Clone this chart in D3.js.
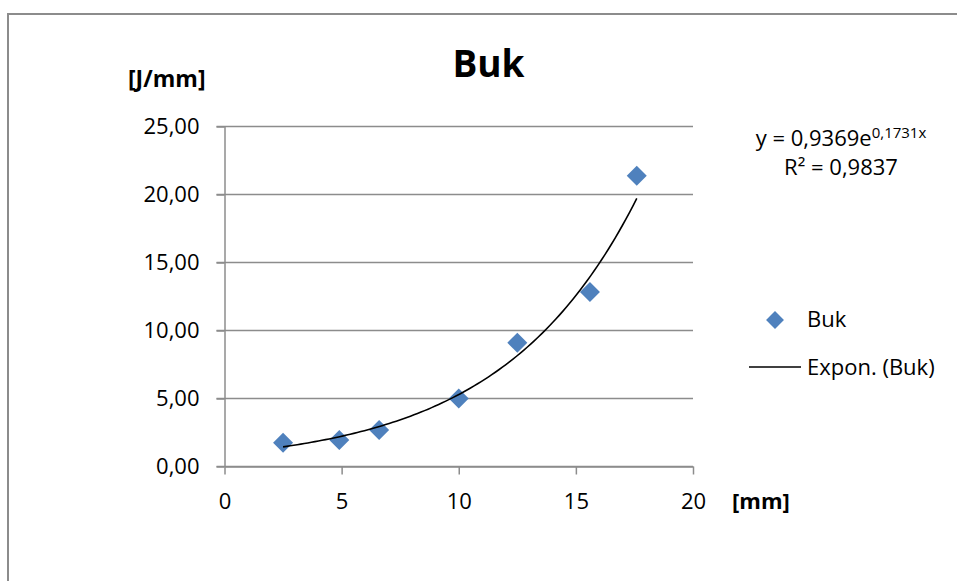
<!DOCTYPE html>
<html>
<head>
<meta charset="utf-8">
<script src="https://cdn.jsdelivr.net/npm/d3@7"></script>
<style>
  html, body { margin: 0; padding: 0; background: #fff; }
  svg { display: block; font-family: "Open Sans", "DejaVu Sans", sans-serif; }
</style>
</head>
<body>
<svg id="chart" width="957" height="581"></svg>
<script>
// ---- data ----
const xValues = [2.5, 4.9, 6.6, 10.0, 12.5, 15.6, 17.6];      // [mm]
const yValues = [1.75, 1.95, 2.68, 5.0, 9.1, 12.83, 21.38];    // [J/mm]
const xTicks = [0, 5, 10, 15, 20];
const yTicks = [0, 5, 10, 15, 20, 25];
const trendA = 0.9369;   // from displayed equation
const trendB = 0.1731;
const titleText = "Buk";
const yUnit = "[J/mm]";
const xUnit = "[mm]";
const seriesName = "Buk";
const trendName = "Expon. (Buk)";
const eqMain = "y = 0,9369e";
const eqExp = "0,1731x";
const r2Text = "R² = 0,9837";

const svg = d3.select("#chart");
const gridColor = "#8c8c8c";
const markColor = "#4f81bd";

// outer chart frame (cropped by the picture on right/bottom)
svg.append("rect").attr("x", 8).attr("y", 14).attr("width", 1200).attr("height", 1200)
  .attr("fill", "#fff").attr("stroke", gridColor).attr("stroke-width", 2);

const x = d3.scaleLinear().domain([0, 20]).range([224.5, 693]);
const y = d3.scaleLinear().domain([0, 25]).range([466.5, 126.5]);

const fmtY = d => d3.format(".2f")(d).replace(".", ",");

// gridlines
svg.append("g").selectAll("line").data(yTicks).join("line")
  .attr("x1", x(0) - 8).attr("x2", x(20))
  .attr("y1", d => y(d)).attr("y2", d => y(d))
  .attr("stroke", gridColor).attr("stroke-width", 1.5);

// y axis
const yAxis = svg.append("g").attr("transform", `translate(${x(0)},0)`)
  .call(d3.axisLeft(y).tickValues(yTicks).tickSize(8).tickSizeOuter(0).tickPadding(17).tickFormat(fmtY));
yAxis.selectAll("path,line").attr("stroke", gridColor).attr("stroke-width", 1.5);
yAxis.selectAll("text").attr("font-size", 22).attr("fill", "#000")
  .attr("font-family", "'Open Sans', sans-serif");

// x axis
const xAxis = svg.append("g").attr("transform", `translate(0,${y(0)})`)
  .call(d3.axisBottom(x).tickValues(xTicks).tickSize(8).tickSizeOuter(0).tickPadding(19).tickFormat(d3.format("d")));
xAxis.selectAll("path,line").attr("stroke", gridColor).attr("stroke-width", 1.5);
xAxis.selectAll("text").attr("font-size", 22).attr("fill", "#000")
  .attr("font-family", "'Open Sans', sans-serif");

// points (diamonds)
const diamond = d3.symbol().type(d3.symbolSquare).size(200);
svg.append("g").selectAll("path").data(xValues.map((v, i) => [v, yValues[i]])).join("path")
  .attr("d", diamond)
  .attr("transform", d => `translate(${x(d[0])},${y(d[1])}) rotate(45)`)
  .attr("fill", markColor);

// exponential trendline
const xmin = d3.min(xValues), xmax = d3.max(xValues);
const trendPts = d3.range(0, 101).map(i => {
  const xv = xmin + (xmax - xmin) * i / 100;
  return [xv, trendA * Math.exp(trendB * xv)];
});
svg.append("path").datum(trendPts)
  .attr("d", d3.line().x(d => x(d[0])).y(d => y(d[1])))
  .attr("fill", "none").attr("stroke", "#000").attr("stroke-width", 1.6);

// title & units
svg.append("text").attr("x", 488.5).attr("y", 77).attr("text-anchor", "middle")
  .attr("font-size", 37).attr("font-weight", "bold").text(titleText);
svg.append("text").attr("x", 128).attr("y", 87)
  .attr("font-size", 23).attr("font-weight", "bold").text(yUnit);
svg.append("text").attr("x", 732).attr("y", 509)
  .attr("font-size", 22).attr("font-weight", "bold").text(xUnit);

// equation label
const eq = svg.append("text").attr("x", 841).attr("y", 146).attr("text-anchor", "middle")
  .attr("font-size", 22);
eq.append("tspan").text(eqMain);
eq.append("tspan").attr("font-size", 15).attr("dy", -8).text(eqExp);
svg.append("text").attr("x", 841).attr("y", 175).attr("text-anchor", "middle")
  .attr("font-size", 22).text(r2Text);

// legend
const lg = svg.append("g");
lg.append("path").attr("d", d3.symbol().type(d3.symbolSquare).size(160))
  .attr("transform", "translate(775,320) rotate(45)").attr("fill", markColor);
lg.append("text").attr("x", 807).attr("y", 327).attr("font-size", 22).text(seriesName);
lg.append("line").attr("x1", 749).attr("x2", 801).attr("y1", 367).attr("y2", 367)
  .attr("stroke", "#000").attr("stroke-width", 1.6);
lg.append("text").attr("x", 807).attr("y", 375).attr("font-size", 22).text(trendName);
</script>
</body>
</html>
